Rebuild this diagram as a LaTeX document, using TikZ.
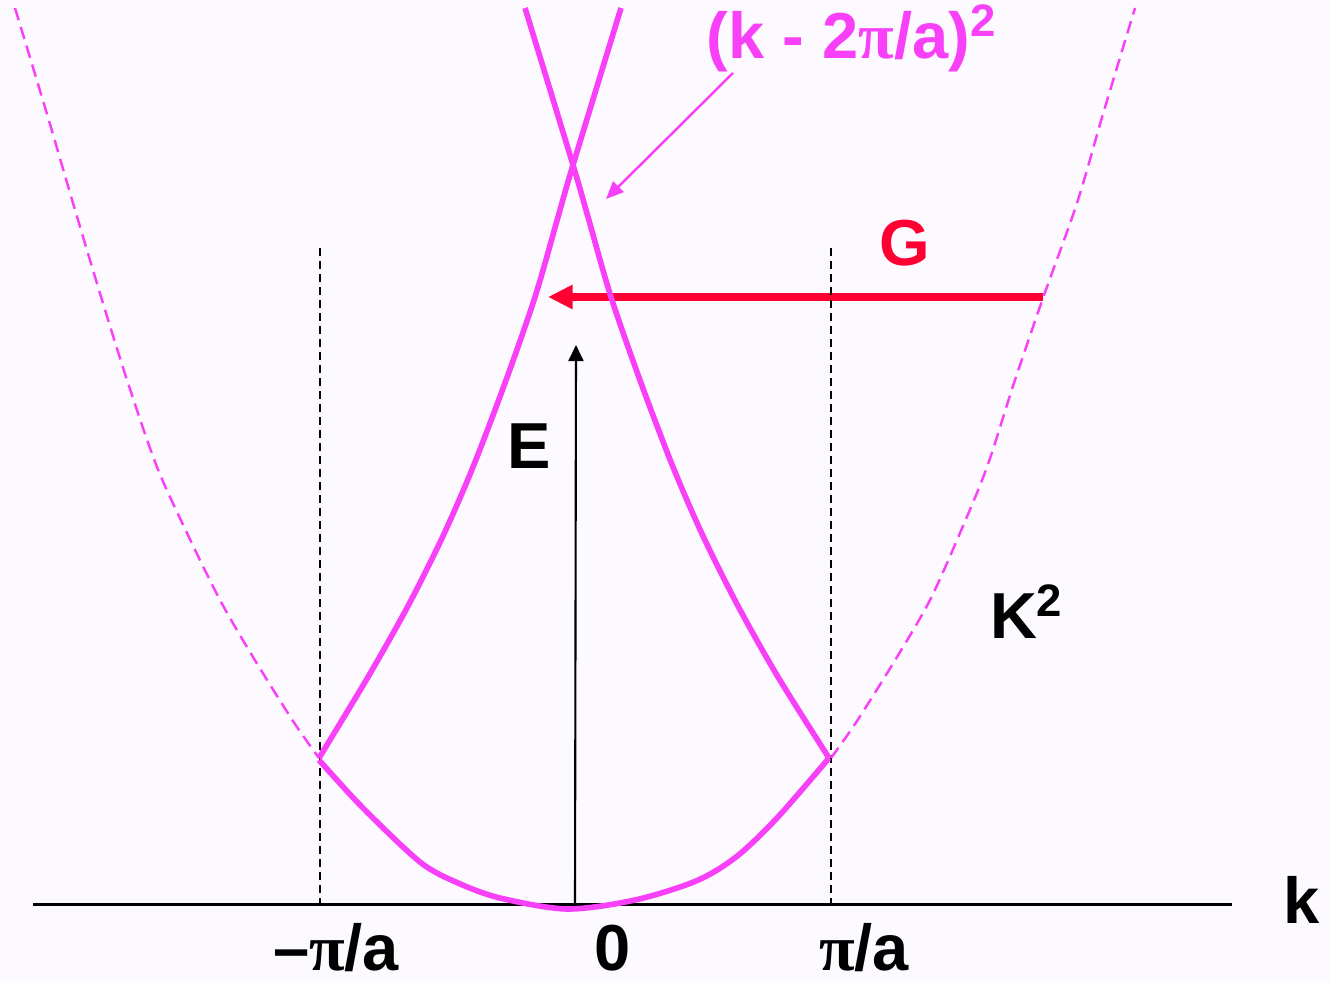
\documentclass[tikz,border=0pt]{standalone}
\usepackage{fontspec}
\setmainfont{Liberation Sans}
\newfontfamily\greekfont{Liberation Serif}
\usetikzlibrary{arrows.meta, positioning}
\definecolor{bandpink}{RGB}{248,64,248}
\definecolor{gred}{RGB}{255,0,51}
\definecolor{bgpaper}{RGB}{252,250,255}
\newcommand{\pii}{{\greekfont π}}

\begin{document}
\begin{tikzpicture}[x=0.1mm, y=-0.1mm,
    lbl/.style={font=\fontsize{18.5}{22}\selectfont\bfseries, inner sep=0pt},
    band/.style={bandpink, line width=1.6pt, line join=round},
    free/.style={bandpink, line width=0.7pt, dash pattern=on 3.6pt off 2pt},
    zoneb/.style={black, line width=0.65pt, dash pattern=on 2.3pt off 1.4pt}]
    % background and frame size
    \fill[bgpaper] (0,0) rectangle (1330,981);
    \useasboundingbox (0,0) rectangle (1330,981);

    % k axis
    \coordinate (kL) at (33,904);
    \coordinate (kR) at (1232,904);
    \coordinate (O) at (575,904);
    \draw[line width=0.85pt] (kL) -- (kR);
    \node[lbl] (k) at (1302,900) {k};

    % zone boundaries
    \coordinate (zbLtop) at (320,248);
    \coordinate (zbL) at (320,905);
    \coordinate (zbRtop) at (831,248);
    \coordinate (zbR) at (831,905);

    % reciprocal lattice vector G
    \coordinate (Gstart) at (1043,297);
    \coordinate (Gend) at (548,297);
    \draw[gred, line width=2.1pt, -{Triangle[length=7pt,width=6.5pt]}] (Gstart) -- (Gend);
    \node[lbl, gred] (G) at (905,243) {G};

    \draw[zoneb] (zbLtop) -- (zbL);
    \draw[zoneb] (zbRtop) -- (zbR);

    % energy axis
    \coordinate (Etop) at (576,345);
    \draw[line width=0.6pt, -{Triangle[length=4.6pt,width=4.3pt]}] (O) -- (Etop);
    \node[lbl] (E) at (529,446) {E};

    % free electron parabola K^2
    \draw[free] plot[smooth] coordinates {(15,8) (47,114) (73,203) (102,300) (128,383)
        (157,467) (187,533) (220,600) (253,657) (293,721) (319,758)};
    \draw[free] plot[smooth] coordinates {(831,758) (857,721) (897,657) (930,600) (960,533)
        (987,467) (1014,383) (1043,298) (1077,203) (1103,114) (1135,8)};
    \node[lbl] (K2) at (1027,612) {K\textsuperscript{2}};

    % folded bands
    \draw[band] plot[smooth] coordinates {(319,760) (362,807) (420,862) (458,883) (500,898)
        (567,909) (635,900) (696,881) (736,857) (777,818) (829,758)};
    \draw[band] plot[smooth] coordinates {(319,758) (368,677) (408,606) (443,536) (473,467)
        (505,383) (535,297) (558,217) (573,165) (621,8)};
    \draw[band] plot[smooth] coordinates {(525,8) (573,165) (588,217) (611,297) (641,383)
        (673,467) (703,536) (738,606) (778,677) (829,758)};

    % shifted parabola label
    \node[lbl, bandpink] (shifted) at (852,38) {(k - 2\pii/a)\textsuperscript{2}};
    \coordinate (shiftfrom) at (733,73);
    \coordinate (shiftto) at (606,199);
    \draw[bandpink, line width=0.7pt, -{Triangle[length=5pt,width=4.2pt]}] (shiftfrom) -- (shiftto);

    % zone labels
    \node[lbl] (mpi) at (336,948) {–\pii/a};
    \node[lbl] (zero) at (613,948) {0};
    \node[lbl] (ppi) at (864,948) {\pii/a};
\end{tikzpicture}
\end{document}
